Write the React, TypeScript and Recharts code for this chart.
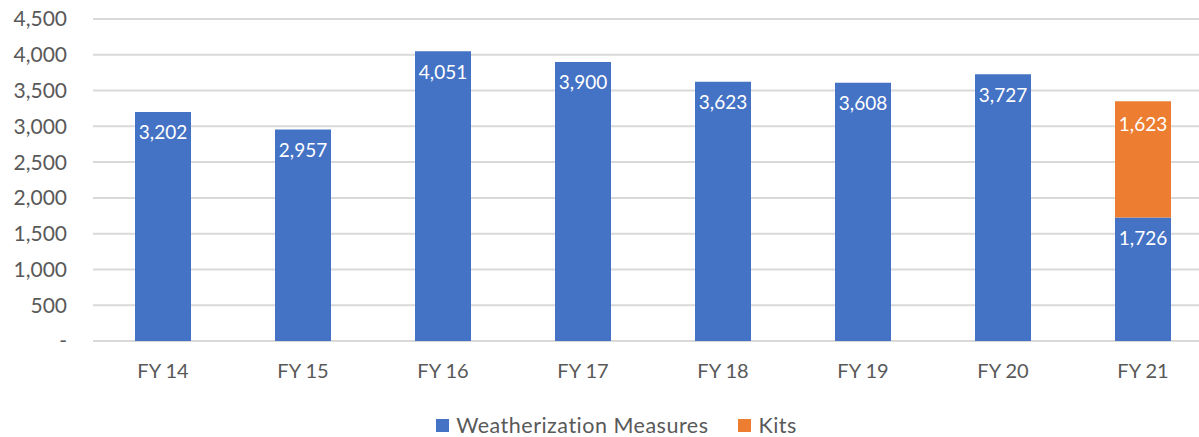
import React from 'react';
import { BarChart, Bar, XAxis, YAxis, CartesianGrid, Legend, LabelList } from 'recharts';

const years = ['FY 14', 'FY 15', 'FY 16', 'FY 17', 'FY 18', 'FY 19', 'FY 20', 'FY 21'];
const weatherization = [3202, 2957, 4051, 3900, 3623, 3608, 3727, 1726];
const kits = [null, null, null, null, null, null, null, 1623];
const yTicks = [0, 500, 1000, 1500, 2000, 2500, 3000, 3500, 4000, 4500];

const BLUE = '#4472C4';
const ORANGE = '#ED7D31';
const TEXT = '#595959';
const FONT = 'Lato, "Open Sans", sans-serif';

const seriesList = [
  { key: 'weatherization', name: 'Weatherization Measures', color: BLUE },
  { key: 'kits', name: 'Kits', color: ORANGE },
];

const data = years.map((year, i) => ({
  year,
  weatherization: weatherization[i],
  kits: kits[i],
}));

const fmt = (v: number) => (v === 0 ? '-' : v.toLocaleString('en-US'));

// legend drawn in series order (recharts sorts by name otherwise)
const LegendContent = () => (
  <div style={{ height: 24, paddingLeft: 20, display: 'flex', justifyContent: 'center', alignItems: 'center', fontFamily: FONT, fontSize: 21.5, letterSpacing: 0.5, color: TEXT }}>
    {seriesList.map((s, i) => (
      <div key={s.key} style={{ display: 'flex', alignItems: 'center', marginRight: i < seriesList.length - 1 ? 30 : 0 }}>
        <span style={{ width: 13, height: 13, background: s.color, display: 'inline-block', marginRight: 7 }} />
        <span>{s.name}</span>
      </div>
    ))}
  </div>
);

export default function App() {
  return (
    <div style={{ position: 'absolute', left: 0, top: 0, width: 1199, height: 437, overflow: 'hidden', background: '#fff' }}>
      <BarChart
        width={1213}
        height={437}
        data={data}
        margin={{ top: 19, right: 0, left: 0, bottom: 0 }}
        barCategoryGap="30%"
      >
        <CartesianGrid vertical={false} stroke="#D9D9D9" strokeWidth={2} />
        <XAxis
          dataKey="year"
          axisLine={false}
          tickLine={false}
          tickMargin={17}
          height={72}
          tick={{ fill: TEXT, fontSize: 20, fontFamily: FONT }}
        />
        <YAxis
          width={93}
          domain={[0, 4500]}
          ticks={yTicks}
          interval={0}
          axisLine={false}
          tickLine={false}
          tickMargin={20}
          tickFormatter={fmt}
          tick={{ fill: TEXT, fontSize: 21, fontFamily: FONT }}
        />
        <Legend verticalAlign="bottom" height={24} content={<LegendContent />} />
        <Bar dataKey="weatherization" name="Weatherization Measures" stackId="a" fill={BLUE} isAnimationActive={false}>
          <LabelList dataKey="weatherization" position="insideTop" offset={14} formatter={(v: any) => fmt(Number(v))} fill="#fff" fontSize={19} fontFamily={FONT} />
        </Bar>
        <Bar dataKey="kits" name="Kits" stackId="a" fill={ORANGE} isAnimationActive={false}>
          <LabelList dataKey="kits" position="insideTop" offset={16} formatter={(v: any) => (v == null ? '' : fmt(Number(v)))} fill="#fff" fontSize={19} fontFamily={FONT} />
        </Bar>
      </BarChart>
    </div>
  );
}
